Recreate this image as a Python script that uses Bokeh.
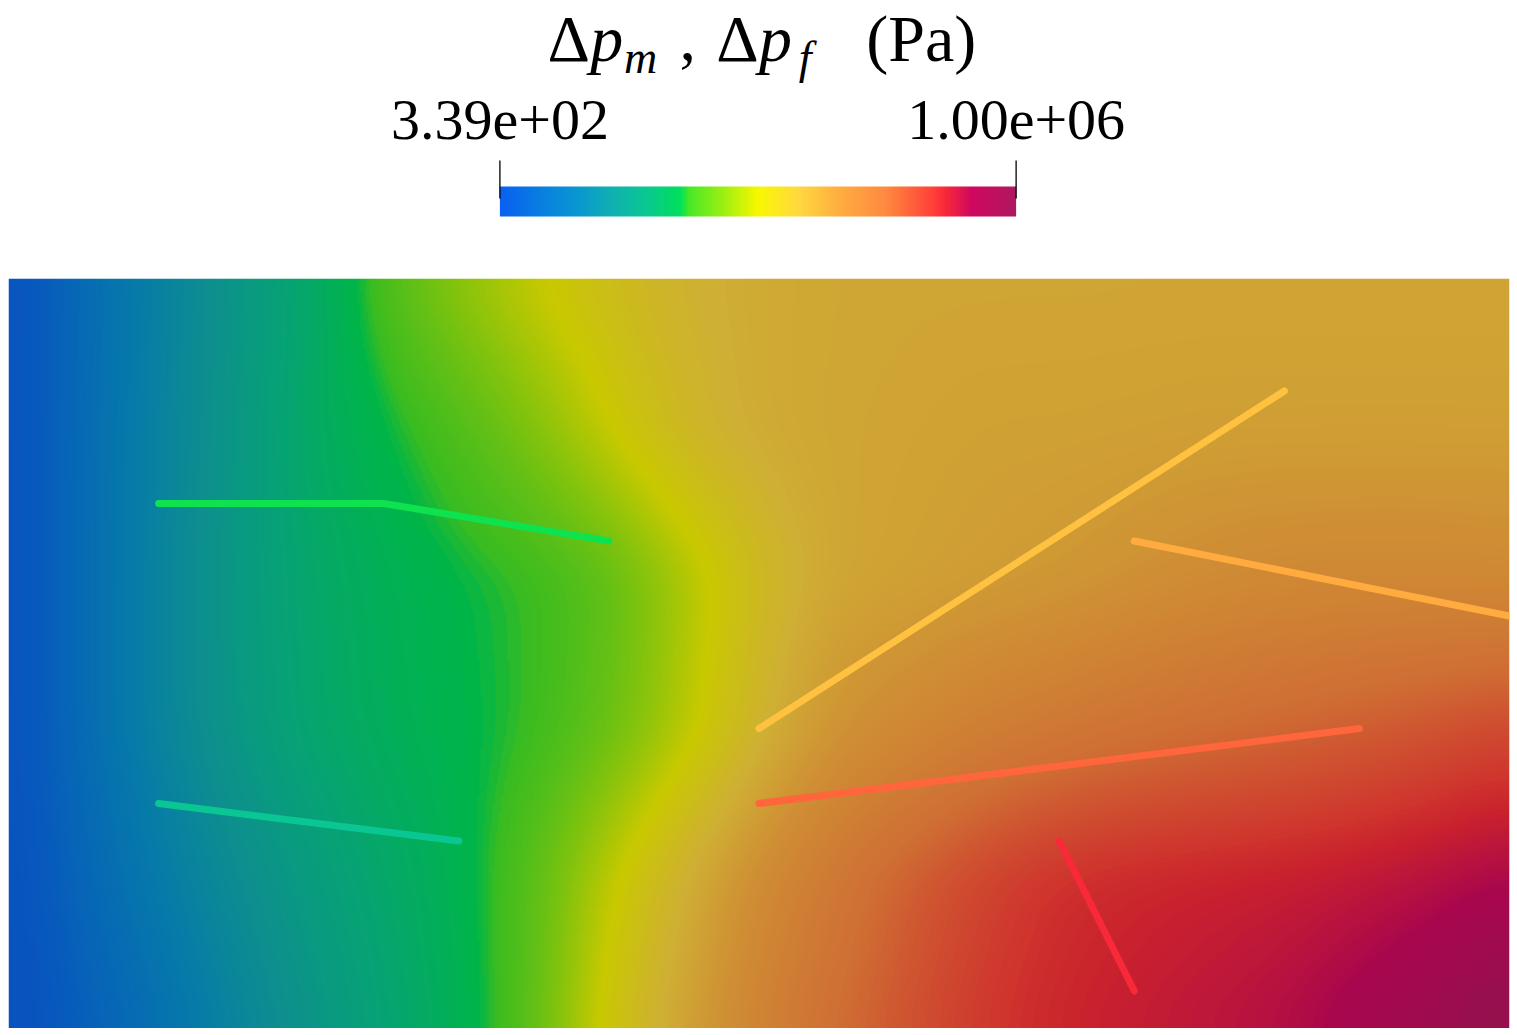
import numpy as np
from bokeh.plotting import figure
from bokeh.models import Range1d, LinearColorMapper, ColumnDataSource, Label
from bokeh.layouts import column
from bokeh.embed import file_html
from bokeh.resources import INLINE
from bokeh.core.properties import value
from bokeh.transform import linear_cmap

# ---------------- data ----------------
VMIN = 3.39e2          # Pa
VMAX = 1.00e6          # Pa
TICK_VALUES = [VMIN, VMAX]
TICK_LABELS = ["3.39e+02", "1.00e+06"]

# colour map (fraction of range -> colour)
CMAP_STOPS = [0.0, 0.083, 0.15, 0.216, 0.283, 0.35, 0.365, 0.436, 0.5,
              0.58, 0.65, 0.75, 0.84, 0.864, 0.915, 1.0]
CMAP_COLORS = ["#0a60f0", "#0880e0", "#0898d0", "#10b0b0", "#08c890", "#00e058",
               "#48e828", "#a0f010", "#f8f800", "#ffd840", "#ffb040", "#ff8840",
               "#ff4038", "#f82838", "#d00860", "#b01860"]
SHADE = 0.81  # lighting factor of the matrix surface

# matrix pressure field (kPa) sampled on a coarse grid, rows from y=0 (bottom) to y=1 (top)
GRID_X = [0.0, 0.1, 0.2, 0.3, 0.4, 0.5, 0.6, 0.7, 0.8, 0.9, 1.0,
          1.1, 1.2, 1.3, 1.4, 1.5, 1.6, 1.7, 1.8, 1.9, 2.0]
GRID_Y = [0.0, 0.2, 0.4, 0.6, 0.8, 1.0]
FIELD_Y00 = [0, 55, 110, 180, 235, 285, 330, 400, 520, 610, 690, 750, 795, 835, 858, 872, 885, 900, 930, 960, 1000]
FIELD_Y02 = [0, 80, 150, 210, 260, 300, 338, 395, 490, 580, 660, 720, 775, 815, 845, 855, 862, 868, 878, 893, 912]
FIELD_Y04 = [0, 100, 180, 245, 295, 325, 345, 365, 410, 480, 570, 640, 670, 700, 720, 738, 750, 762, 775, 790, 810]
FIELD_Y06 = [0, 100, 180, 250, 300, 330, 350, 365, 400, 470, 550, 600, 610, 620, 630, 645, 660, 668, 670, 670, 665]
FIELD_Y08 = [0, 100, 175, 245, 310, 350, 385, 435, 500, 560, 590, 600, 605, 610, 610, 612, 615, 615, 615, 615, 615]
FIELD_Y10 = [0, 95, 170, 240, 300, 385, 450, 500, 545, 575, 590, 598, 600, 600, 600, 600, 600, 600, 600, 600, 600]
FIELD_KPA = [FIELD_Y00, FIELD_Y02, FIELD_Y04, FIELD_Y06, FIELD_Y08, FIELD_Y10]

# fractures (polylines) and their pressure (kPa)
FRACTURE_XS = [[0.2, 0.5, 0.8], [0.2, 0.6], [1.0, 1.7], [1.5, 2.0], [1.0, 1.8], [1.4, 1.5]]
FRACTURE_YS = [[0.7, 0.7, 0.65], [0.3, 0.25], [0.4, 0.85], [0.65, 0.55], [0.3, 0.4], [0.25, 0.05]]
FRACTURE_KPA = [352, 280, 620, 662, 790, 862]


# ---------------- palettes ----------------
def hex2rgb(h):
    h = h.lstrip("#")
    return [int(h[i:i + 2], 16) for i in (0, 2, 4)]


def build_palette(factor=1.0, n=256):
    t = np.linspace(0, 1, n)
    rgb = np.array([hex2rgb(c) for c in CMAP_COLORS], dtype=float)
    out = []
    for i in range(n):
        r = np.interp(t[i], CMAP_STOPS, rgb[:, 0]) * factor
        g = np.interp(t[i], CMAP_STOPS, rgb[:, 1]) * factor
        b = np.interp(t[i], CMAP_STOPS, rgb[:, 2]) * factor
        out.append("#%02x%02x%02x" % (int(round(r)), int(round(g)), int(round(b))))
    return out


BRIGHT = build_palette(1.0)
SHADED = build_palette(SHADE)

# ---------------- layout geometry (page pixels) ----------------
OX = 1                      # page x of layout's left edge
W = 1512
HEAD_H = 278                # header height = page y of the field's top edge
BAR_X0, BAR_X1 = 496, 1016  # page x of colour bar ends
k = (VMAX - VMIN) / (BAR_X1 - BAR_X0)
x_start = VMIN - (BAR_X0 - OX) * k
x_end = x_start + W * k
BASE_SHIFT = 0.36           # svg backend draws alphabetic baselines ~0.36em low


def px2v(page_x):
    return x_start + (page_x - OX) * k


def py2h(page_y, font_px=0):
    return HEAD_H - (page_y - BASE_SHIFT * font_px)


head = figure(width=W, height=HEAD_H, x_range=Range1d(x_start, x_end), y_range=Range1d(0, HEAD_H),
              x_axis_type=None, y_axis_type=None, toolbar_location=None, output_backend="svg",
              min_border_left=0, min_border_right=0, min_border_top=0, min_border_bottom=0)
head.grid.visible = False
head.outline_line_color = None
head.background_fill_color = "white"
head.border_fill_color = "white"

grad = np.linspace(VMIN, VMAX, 512).reshape(1, -1)
bar_mapper = LinearColorMapper(palette=BRIGHT, low=VMIN, high=VMAX)
head.image(image=[grad], x=VMIN, y=py2h(216), dw=VMAX - VMIN, dh=30, color_mapper=bar_mapper)
head.segment(x0=TICK_VALUES, x1=TICK_VALUES, y0=[py2h(160)] * 2, y1=[py2h(198)] * 2,
             line_color="black", line_width=1.3)
head.text(x=TICK_VALUES, y=[py2h(140, 58)] * 2, text=TICK_LABELS, text_align="center",
          text_baseline="alphabetic", text_font=value("Liberation Serif"), text_font_size="58px",
          text_color="black")

FONT = "Liberation Serif"
title_parts = [
    ("Δ", 544, 62, 66, "normal"),
    ("p", 587, 62, 66, "italic"),
    ("m", 621, 74, 46, "italic"),
    (",", 677, 62, 66, "normal"),
    ("Δ", 714, 62, 66, "normal"),
    ("p", 757, 62, 66, "italic"),
    ("f", 797, 74, 46, "italic"),
    ("(Pa)", 865, 62, 66, "normal"),
]
for txt, px, py, fs, style in title_parts:
    head.add_layout(Label(x=px2v(px), y=py2h(py, fs), text=txt, text_font=FONT,
                          text_font_size="%dpx" % fs, text_font_style=style, text_align="left",
                          text_baseline="alphabetic", text_color="black"))

# ---------------- field ----------------
FIELD_H = 750
p = figure(width=W, height=FIELD_H, x_range=Range1d(0, 2), y_range=Range1d(0, 1),
           x_axis_type=None, y_axis_type=None, toolbar_location=None, output_backend="svg",
           min_border_left=9 - OX, min_border_right=W - (1510 - OX), min_border_top=0,
           min_border_bottom=0)
p.grid.visible = False
p.outline_line_color = None
p.background_fill_color = "white"
p.border_fill_color = "white"

xf = np.linspace(0, 2, 1001)
yf = np.linspace(0, 1, 501)
field = np.array(FIELD_KPA, dtype=float) * 1e3
rows = np.array([np.interp(xf, GRID_X, r) for r in field])            # (6, nx)
img = np.array([np.interp(yf, GRID_Y, rows[:, j]) for j in range(len(xf))]).T  # (ny, nx)


def smooth(a, n, axis):
    # box smoothing of the interpolated display surface (removes bilinear creases)
    pad = [(0, 0), (0, 0)]
    pad[axis] = (n, n)
    ap = np.pad(a, pad, mode="reflect")
    c = np.cumsum(ap, axis=axis)
    c = np.concatenate([np.zeros_like(np.take(c, [0], axis=axis)), c], axis=axis)
    hi = np.take(c, np.arange(2 * n + 1, c.shape[axis]), axis=axis)
    lo = np.take(c, np.arange(0, c.shape[axis] - 2 * n - 1), axis=axis)
    return (hi - lo) / (2 * n + 1)


for _ in range(2):
    img = smooth(img, 20, 1)
    img = smooth(img, 20, 0)
img = np.clip(img, VMIN, VMAX).astype(np.float32)

field_mapper = LinearColorMapper(palette=SHADED, low=VMIN, high=VMAX)
p.image(image=[img], x=0, y=0, dw=2, dh=1, color_mapper=field_mapper)

src = ColumnDataSource(dict(xs=FRACTURE_XS, ys=FRACTURE_YS, val=[v * 1e3 for v in FRACTURE_KPA]))
p.multi_line(xs="xs", ys="ys", source=src, line_width=7, line_cap="round", line_join="round",
             line_color=linear_cmap("val", BRIGHT, VMIN, VMAX))

layout = column(head, p, spacing=0)
open("out.html", "w").write(file_html(layout, INLINE))
